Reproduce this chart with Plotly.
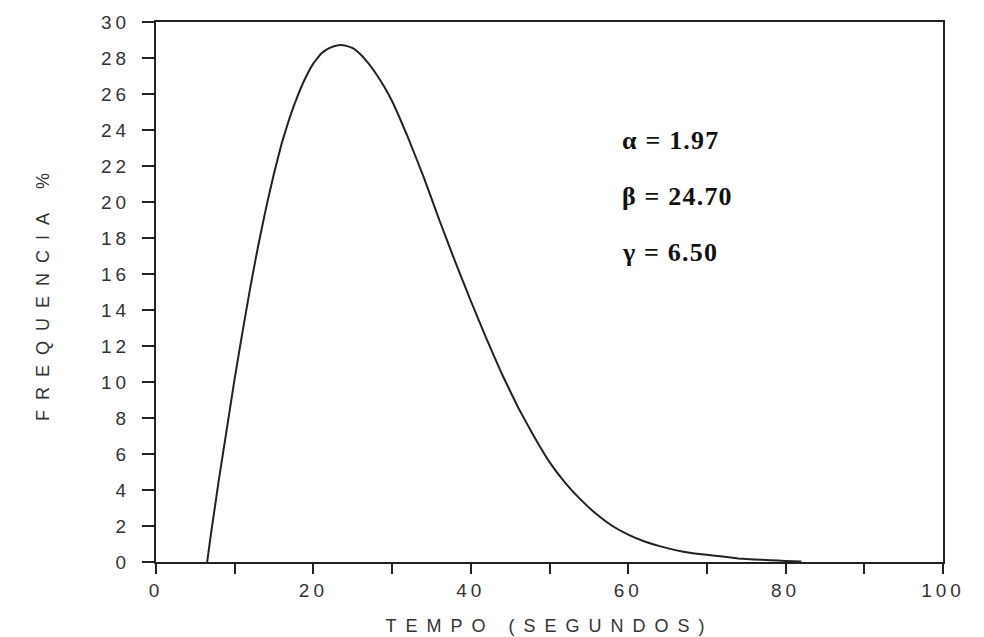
import plotly.graph_objects as go

# Frequency curve of travel time (seconds vs. %)
tempo = [6.5, 7, 8, 9, 10, 11, 12, 13, 14, 15, 16, 17, 18, 19, 20, 21, 22, 23, 24,
         25, 26, 27, 28, 29, 30, 32, 34, 36, 38, 40, 42, 44, 46, 48, 50, 52, 54,
         56, 58, 60, 62, 64, 66, 68, 70, 72, 74, 76, 78, 80, 82]
frequencia = [0.0, 1.6, 4.6, 7.4, 10.2, 12.8, 15.3, 17.6, 19.7, 21.6, 23.3, 24.7,
              25.9, 26.9, 27.7, 28.25, 28.55, 28.7, 28.7, 28.55, 28.2, 27.7, 27.1,
              26.4, 25.6, 23.6, 21.4, 19.0, 16.7, 14.5, 12.4, 10.4, 8.6, 7.0, 5.55,
              4.4, 3.45, 2.65, 2.0, 1.52, 1.15, 0.88, 0.66, 0.5, 0.4, 0.3, 0.2,
              0.14, 0.1, 0.06, 0.03]

x_ticks = list(range(0, 101, 10))
x_labels = [str(v) if v % 20 == 0 else "" for v in x_ticks]
y_ticks = list(range(0, 31, 2))
y_labels = [str(v) for v in y_ticks]

params = ["α = 1.97", "β = 24.70", "γ = 6.50"]
param_y = [23.4, 20.3, 17.2]

INK = "#222222"
LABEL_GREY = "#333333"
TICK_FONT = dict(family="Liberation Sans", size=19, color=LABEL_GREY)
TITLE_FONT = dict(family="Liberation Sans", size=18, color=LABEL_GREY)


def spaced(s, px=4):
    return f'<span style="letter-spacing:{px}px">{s}</span>'


fig = go.Figure()
fig.add_trace(go.Scatter(
    x=tempo, y=frequencia, mode="lines",
    line=dict(color=INK, width=2, shape="spline", smoothing=0.3),
    showlegend=False, hoverinfo="skip",
))

for text, yv in zip(params, param_y):
    fig.add_annotation(
        x=59.0, y=yv, xref="x", yref="y", xanchor="left", yanchor="middle",
        text=spaced(f"<b>{text}</b>", 1.2), showarrow=False,
        font=dict(family="Liberation Serif", size=26, color="#111111"),
    )

fig.update_xaxes(
    range=[0, 100], tickmode="array", tickvals=x_ticks,
    ticktext=[spaced(t) for t in x_labels],
    ticks="outside", ticklen=10, tickwidth=2, tickcolor=INK,
    showline=True, linecolor=INK, linewidth=2, mirror=True,
    showgrid=False, zeroline=False, tickfont=TICK_FONT,
    title=dict(text=spaced("TEMPO (SEGUNDOS)", 9), font=TITLE_FONT, standoff=20),
)
fig.update_yaxes(
    range=[0, 30], tickmode="array", tickvals=y_ticks,
    ticktext=[spaced(t) for t in y_labels],
    ticks="outside", ticklen=12, tickwidth=2, tickcolor=INK,
    showline=True, linecolor=INK, linewidth=2, mirror=True,
    showgrid=False, zeroline=False, tickfont=TICK_FONT,
    ticklabelstandoff=8,
    title=dict(text=spaced("FREQUENCIA %", 10), font=TITLE_FONT, standoff=47),
)

fig.update_layout(
    width=984, height=637,
    margin=dict(l=156, r=41, t=22, b=75, autoexpand=False),
    paper_bgcolor="white", plot_bgcolor="white",
)

fig.write_html("out.html")
